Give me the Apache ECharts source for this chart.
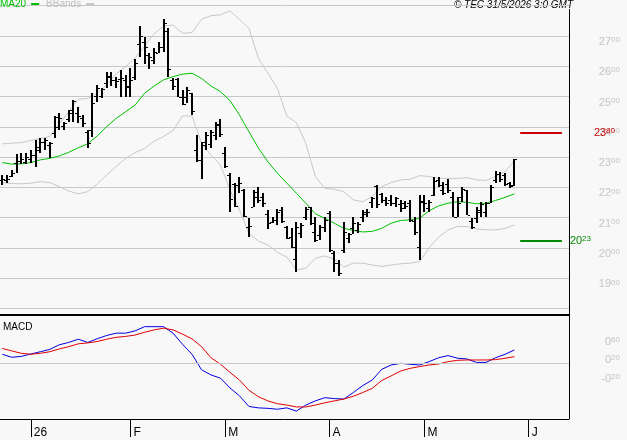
<!DOCTYPE html>
<html>
<head>
<meta charset="utf-8">
<script src="https://cdn.jsdelivr.net/npm/echarts@6.0.0/dist/echarts.min.js"></script>
<style>
html, body { margin: 0; background: #f8f8f8; }
#main { width: 627px; height: 440px; }
</style>
</head>
<body>
<div id="main"></div>
<script>
// daily bars, index 0 = first bar on the left
const opens = [2224, 2224, 2238, 2280, 2288, 2283, 2293, 2307, 2324, 2351,
    2340, 2379, 2401, 2403, 2425, 2456, 2445, 2428, 2384, 2390,
    2502, 2502, 2544, 2566, 2555, 2557, 2555, 2531, 2566, 2672,
    2681, 2637, 2620, 2645, 2664, 2718, 2555, 2557, 2498, 2498,
    2511, 2324, 2290, 2351, 2345, 2373, 2410, 2313, 2240, 2210,
    2208, 2190, 2070, 2137, 2185, 2170, 2113, 2087, 2093, 2125,
    2071, 2035, 1963, 2049, 2102, 2135, 2054, 2043, 2069, 2117,
    1985, 1950, 1994, 2032, 2065, 2060, 2104, 2113, 2153, 2205,
    2179, 2160, 2157, 2150, 2145, 2150, 2150, 2090, 2005, 2153,
    2131, 2175, 2225, 2190, 2212, 2170, 2104, 2170, 2190, 2090,
    2098, 2120, 2120, 2150, 2225, 2245, 2240, 2215, 2208]
const highs = [2241, 2241, 2258, 2310, 2313, 2315, 2324, 2357, 2362, 2364,
    2351, 2436, 2447, 2417, 2456, 2489, 2467, 2439, 2390, 2511,
    2538, 2527, 2582, 2582, 2564, 2588, 2571, 2593, 2623, 2733,
    2696, 2643, 2659, 2681, 2755, 2725, 2560, 2560, 2522, 2533,
    2513, 2373, 2351, 2384, 2390, 2417, 2425, 2335, 2247, 2214,
    2236, 2194, 2098, 2192, 2201, 2181, 2126, 2102, 2128, 2137,
    2073, 2065, 2087, 2082, 2137, 2137, 2102, 2076, 2102, 2123,
    1990, 1961, 2087, 2049, 2102, 2087, 2126, 2129, 2168, 2208,
    2183, 2170, 2175, 2168, 2159, 2156, 2159, 2104, 2175, 2175,
    2159, 2236, 2236, 2219, 2227, 2186, 2170, 2200, 2192, 2098,
    2137, 2153, 2153, 2208, 2255, 2252, 2247, 2219, 2293]
const lows = [2208, 2216, 2234, 2247, 2278, 2278, 2280, 2269, 2313, 2324,
    2298, 2362, 2390, 2390, 2417, 2417, 2412, 2401, 2329, 2368,
    2483, 2494, 2527, 2535, 2527, 2500, 2500, 2500, 2555, 2632,
    2608, 2590, 2608, 2643, 2648, 2566, 2522, 2498, 2472, 2478,
    2439, 2285, 2227, 2324, 2329, 2357, 2368, 2263, 2120, 2137,
    2181, 2104, 2038, 2135, 2148, 2137, 2062, 2082, 2076, 2082,
    2029, 1999, 1922, 2032, 2093, 2076, 2021, 2027, 2054, 1988,
    1922, 1906, 1985, 2016, 2047, 2051, 2085, 2104, 2131, 2131,
    2148, 2139, 2139, 2137, 2120, 2128, 2087, 2043, 1961, 2120,
    2120, 2172, 2203, 2175, 2181, 2101, 2101, 2153, 2109, 2062,
    2084, 2101, 2104, 2148, 2214, 2219, 2205, 2197, 2205]
const closes = [2227, 2228, 2249, 2288, 2293, 2302, 2307, 2335, 2351, 2357,
    2346, 2434, 2428, 2414, 2447, 2486, 2436, 2412, 2346, 2478,
    2527, 2524, 2568, 2555, 2553, 2560, 2535, 2555, 2610, 2700,
    2665, 2632, 2648, 2665, 2742, 2590, 2535, 2500, 2476, 2522,
    2454, 2290, 2340, 2373, 2384, 2406, 2375, 2271, 2161, 2140,
    2214, 2106, 2073, 2170, 2157, 2148, 2082, 2093, 2120, 2090,
    2033, 2005, 2070, 2076, 2128, 2084, 2027, 2071, 2093, 1995,
    1952, 1917, 2054, 2047, 2082, 2080, 2120, 2120, 2164, 2145,
    2159, 2150, 2148, 2164, 2131, 2140, 2093, 2054, 2155, 2148,
    2153, 2222, 2208, 2183, 2192, 2104, 2150, 2195, 2110, 2070,
    2126, 2145, 2150, 2203, 2245, 2228, 2210, 2205, 2293]

// indicators, read every 2nd bar
const step = 2
const ma20 = [2282, 2277, 2278, 2282, 2291, 2296, 2304, 2316, 2331, 2344,
    2370, 2401, 2428, 2450, 2472, 2511, 2535, 2555, 2566, 2574,
    2577, 2560, 2535, 2516, 2487, 2439, 2384, 2330, 2285, 2247,
    2214, 2181, 2148, 2113, 2098, 2082, 2065, 2058, 2053, 2055,
    2065, 2082, 2091, 2093, 2098, 2123, 2139, 2148, 2153, 2151,
    2146, 2148, 2157, 2167, 2179]
const bbUpper = [2344, 2346, 2348, 2355, 2362, 2368, 2410, 2450, 2491, 2494,
    2511, 2538, 2575, 2599, 2626, 2667, 2707, 2733, 2736, 2709,
    2711, 2755, 2767, 2770, 2783, 2755, 2725, 2626, 2577, 2527,
    2436, 2414, 2346, 2236, 2197, 2194, 2186, 2159, 2153, 2170,
    2203, 2216, 2225, 2227, 2239, 2236, 2230, 2230, 2230, 2232,
    2225, 2223, 2236, 2252, 2289]
const bbLower = [2216, 2213, 2212, 2214, 2219, 2216, 2203, 2188, 2179, 2186,
    2211, 2241, 2269, 2296, 2315, 2329, 2353, 2368, 2388, 2436,
    2436, 2346, 2307, 2274, 2192, 2126, 2049, 2023, 2010, 1986,
    1970, 1928, 1933, 1966, 1974, 1963, 1937, 1950, 1950, 1944,
    1939, 1944, 1948, 1950, 1955, 2000, 2036, 2060, 2071, 2071,
    2063, 2060, 2060, 2065, 2076]
const macd = [19.5, 13, 15, 20, 25, 30, 40, 45, 52, 45,
    53, 60, 65, 65, 70, 79, 79, 79, 65, 41,
    19.5, -14, -25, -32, -53, -70, -93, -96, -97, -99,
    -96, -103, -90, -81, -74, -76, -77, -63, -48, -36,
    -13, -3.6, 0, -2, -3.6, 3.6, 12, 16.6, 11, 9.4,
    2, 2, 12, 19.5, 28.8]
const signal = [32, 26.7, 21.6, 19.5, 21.6, 25, 31, 36, 42, 44,
    47, 52, 56, 58, 61, 67, 72, 75.7, 72, 63,
    52.6, 36, 12, -2, -19.5, -36, -58, -72, -81, -87,
    -90, -94, -94, -90, -85, -81, -77, -71, -63, -54,
    -37, -27, -16.6, -10.8, -7, -3.6, -1.4, 3.6, 6.5, 7.2,
    7.2, 7.2, 8, 10.8, 14.4]

// horizontal levels on the right
const levels = [2380, 2023]
const levelColors = ['#cc0000', '#008c00']
const levelLabelGap = [32, 8]

// month ticks (bar index of first session of the month)
const monthStarts = [6, 27, 47, 69, 89, 111]
const monthLabels = ['26', 'F', 'M', 'A', 'M', 'J']

const FONT = 'Liberation Sans'
const LABEL_GREY = '#c4c4c4'

function splitPrice(v) {
    const a = Math.abs(v)
    const sign = v < 0 ? '-' : ''
    const hi = Math.floor(a / 100)
    const lo = String(Math.round(a % 100)).padStart(2, '0')
    return '{a|' + sign + hi + '}{b|' + lo + '}'
}

function richFor(color) {
    return {
        a: { fontSize: 11, color: color, fontFamily: FONT, lineHeight: 12 },
        b: { fontSize: 8, color: color, fontFamily: FONT, verticalAlign: 'top', lineHeight: 12 }
    }
}

const bars = opens.map((o, i) => [i, o, highs[i], lows[i], closes[i]])
const toPairs = arr => arr.map((v, k) => [k * step, v])

function renderBar(params, api) {
    const i = api.value(0)
    const top = api.coord([i, api.value(2)])
    const bot = api.coord([i, api.value(3)])
    const op = api.coord([i, api.value(1)])
    const cl = api.coord([i, api.value(4)])
    const x = Math.round(top[0])
    const y1 = Math.round(top[1])
    const y2 = Math.round(bot[1])
    return {
        type: 'group',
        children: [
            { type: 'rect', shape: { x: x - 1, y: y1, width: 2, height: Math.max(1, y2 - y1) }, style: { fill: '#000' } },
            { type: 'rect', shape: { x: x - 3, y: Math.round(op[1]), width: 2, height: 1 }, style: { fill: '#000' } },
            { type: 'rect', shape: { x: x + 1, y: Math.round(cl[1]), width: 2, height: 1 }, style: { fill: '#000' } }
        ]
    }
}

var myChart = echarts.init(document.getElementById('main'))

option = {
    backgroundColor: '#f8f8f8',
    animation: false,
    legend: {
        left: 0,
        top: -1,
        padding: 0,
        itemGap: 7,
        itemWidth: 8,
        itemHeight: 2,
        icon: 'rect',
        align: 'right',
        selectedMode: false,
        textStyle: { fontSize: 10, fontFamily: FONT },
        data: [
            { name: 'MA20', textStyle: { color: '#00c000' } },
            { name: 'BBands', textStyle: { color: '#c0c0c0' } }
        ]
    },
    grid: [
        { left: 0, right: 58, top: 5.7, height: 302.9 },
        { left: 0, right: 58, top: 316, height: 103 }
    ],
    xAxis: [
        { gridIndex: 0, type: 'value', min: -0.5, max: 119.5, show: false },
        {
            gridIndex: 1, type: 'value', min: -0.5, max: 119.5,
            splitLine: { show: false },
            axisLine: { show: true, onZero: false, lineStyle: { color: '#000', width: 1 } },
            axisTick: { show: true, customValues: monthStarts, length: 18, lineStyle: { color: '#000' } },
            axisLabel: {
                customValues: monthStarts,
                formatter: v => monthLabels[monthStarts.indexOf(v)],
                align: 'left',
                verticalAlign: 'middle',
                margin: 14,
                padding: [0, 0, 0, 3],
                color: '#000',
                fontSize: 12,
                fontFamily: FONT
            }
        }
    ],
    yAxis: [
        {
            gridIndex: 0, type: 'value', position: 'right',
            min: 1800, max: 2800, interval: 100,
            axisLine: { show: false },
            axisTick: { show: false },
            splitLine: { lineStyle: { color: '#c8c8c8', width: 1 } },
            axisLabel: {
                showMinLabel: false,
                showMaxLabel: false,
                formatter: v => (v <= 1800 || v >= 2800) ? '' : splitPrice(v),
                rich: richFor(LABEL_GREY),
                align: 'right',
                verticalAlign: 'top',
                margin: 51
            }
        },
        {
            gridIndex: 1, type: 'value', position: 'right',
            min: -120, max: 102,
            axisLine: { show: false },
            axisTick: { show: false },
            splitLine: { show: false },
            axisLabel: {
                customValues: [-20, 20, 60],
                formatter: v => splitPrice(v),
                rich: richFor(LABEL_GREY),
                align: 'right',
                verticalAlign: 'top',
                margin: 51
            }
        }
    ],
    series: [
        {
            name: 'BBands', type: 'line', xAxisIndex: 0, yAxisIndex: 0,
            data: toPairs(bbUpper), showSymbol: false, symbol: 'none',
            lineStyle: { color: '#c8c8c8', width: 1 }, itemStyle: { color: '#c8c8c8' }, z: 2
        },
        {
            name: 'BBands', type: 'line', xAxisIndex: 0, yAxisIndex: 0,
            data: toPairs(bbLower), showSymbol: false, symbol: 'none',
            lineStyle: { color: '#c8c8c8', width: 1 }, itemStyle: { color: '#c8c8c8' }, z: 2
        },
        {
            name: 'MA20', type: 'line', xAxisIndex: 0, yAxisIndex: 0,
            data: toPairs(ma20), showSymbol: false, symbol: 'none',
            lineStyle: { color: '#00c000', width: 1 }, itemStyle: { color: '#00c000' }, z: 3,
            markLine: {
                silent: true,
                symbol: ['none', 'none'],
                animation: false,
                data: levels.map((v, k) => [
                    {
                        coord: [109.2, v],
                        lineStyle: { color: levelColors[k], width: 2, type: 'solid' },
                        label: {
                            show: true, position: 'end', distance: levelLabelGap[k],
                            formatter: splitPrice(v), rich: richFor(levelColors[k])
                        }
                    },
                    { coord: [118, v] }
                ])
            }
        },
        {
            name: 'OHLC', type: 'custom', xAxisIndex: 0, yAxisIndex: 0,
            renderItem: renderBar,
            encode: { x: 0, y: [1, 2, 3, 4] },
            data: bars, z: 5
        },
        {
            name: 'MACD', type: 'line', xAxisIndex: 1, yAxisIndex: 1,
            data: toPairs(macd), showSymbol: false, symbol: 'none',
            lineStyle: { color: '#0000e0', width: 1 }, z: 3,
            markLine: {
                silent: true,
                symbol: ['none', 'none'],
                label: { show: false },
                lineStyle: { color: '#c8c8c8', width: 1, type: 'solid' },
                data: [{ yAxis: 0 }]
            }
        },
        {
            name: 'Signal', type: 'line', xAxisIndex: 1, yAxisIndex: 1,
            data: toPairs(signal), showSymbol: false, symbol: 'none',
            lineStyle: { color: '#e00000', width: 1 }, z: 3
        }
    ],
    graphic: [
        { type: 'rect', shape: { x: 0, y: 314, width: 569, height: 2 }, style: { fill: '#000' }, z: 10 },
        { type: 'line', shape: { x1: 569.5, y1: 9, x2: 569.5, y2: 419 }, style: { stroke: '#000', lineWidth: 1 }, z: 10 },
        { type: 'text', left: 3, top: 322, style: { text: 'MACD', fontSize: 10, fontFamily: FONT, fill: '#000' } },
        { type: 'text', right: 54, top: 0, style: { text: '© TEC 31/5/2026 3:0 GMT', fontSize: 10, fontStyle: 'italic', fontFamily: FONT, fill: '#000' } }
    ]
}

myChart.setOption(option)
</script>
</body>
</html>
